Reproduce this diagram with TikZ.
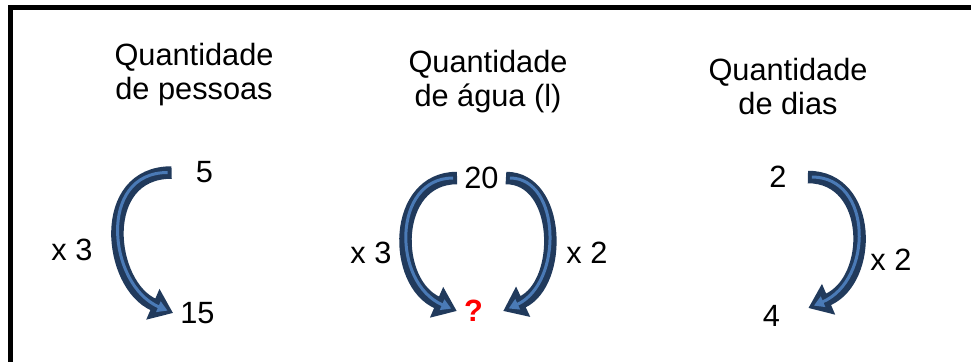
\documentclass[tikz,border=0pt]{standalone}
\usepackage{fontspec}
\setmainfont{Liberation Sans}
\usetikzlibrary{arrows.meta}
\definecolor{arrowdark}{RGB}{33,58,92}
\definecolor{arrowlight}{RGB}{74,122,182}
\newcommand{\bentarrow}[1]{%
  \draw[outerarrow] #1;
  \draw[innerarrow] #1;}

\begin{document}
\begin{tikzpicture}[x=0.02cm, y=-0.02cm,
    title/.style={align=center, anchor=north, inner sep=0pt, font=\fontsize{17.5}{19.5}\selectfont},
    num/.style={inner sep=0.14cm, font=\fontsize{17.5}{20}\selectfont},
    factor/.style={inner sep=0pt, font=\fontsize{17.5}{20}\selectfont},
    outerarrow/.style={line width=0.25cm, arrowdark, -{Triangle[length=0.44cm, width=0.64cm]}},
    innerarrow/.style={line width=0.06cm, arrowlight, shorten <=0.08cm, shorten >=0.12cm, -{Triangle[length=0.2cm, width=0.22cm]}},
]
\useasboundingbox (0,0) rectangle (971,362);
\draw[line width=0.1cm] (971,7.5) -- (10.5,7.5) -- (10.5,362);

\node[title] (T1) at (194,43) {Quantidade\\de pessoas};
\node[title] (T2) at (488,50) {Quantidade\\de água (l)};
\node[title] (T3) at (788,58) {Quantidade\\de dias};

\node[num] (p5) at (204.5,172.5) {5};
\node[num] (p15) at (197.5,313) {15};
\node[num] (a20) at (481.5,178) {20};
\node[num, text=red, font=\fontsize{17.5}{20}\selectfont\bfseries] (aq) at (473.5,311) {?};
\node[num] (d2) at (778,177) {2};
\node[num] (d4) at (771.5,316) {4};

\node[factor] (f1) at (72,250) {x 3};
\node[factor] (f2) at (371,253) {x 3};
\node[factor] (f3) at (587,253) {x 2};
\node[factor] (f4) at (891,260) {x 2};

\bentarrow{([xshift=-0.34cm]p5.west) .. controls +(-75,0) and +(-65,-28) .. (p15.west)}
\bentarrow{(a20.west) .. controls +(-65,0) and +(-65,-28) .. (aq.west)}
\bentarrow{(a20.east) .. controls +(55,0) and +(60,-28) .. ([xshift=0.26cm]aq.east)}
\bentarrow{([xshift=0.28cm]d2.east) .. controls +(65,0) and +(65,-28) .. ([xshift=0.42cm,yshift=0.16cm]d4.east)}
\end{tikzpicture}
\end{document}
